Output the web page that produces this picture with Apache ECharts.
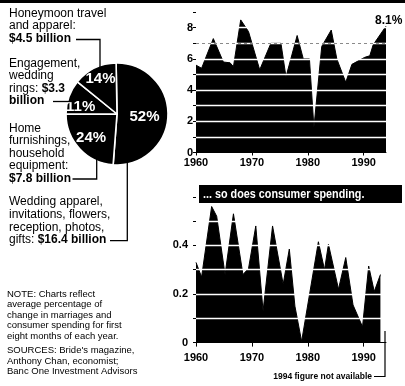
<!DOCTYPE html>
<html>
<head>
<meta charset="utf-8">
<script src="https://cdn.jsdelivr.net/npm/echarts@6/dist/echarts.min.js"></script>
<style>
html,body{margin:0;padding:0;background:#fff;}
#c{width:405px;height:386px;}
</style>
</head>
<body>
<div id="c"></div>
<script>
// ---- Pie: wedding spending shares ----
const pieNames = ['Wedding apparel, invitations, flowers, reception, photos, gifts', 'Home furnishings, household equipment', 'Engagement, wedding rings', 'Honeymoon travel and apparel'];
const piePercent = [52, 24, 11, 14];
const pieBillions = [16.4, 7.8, 3.3, 4.5];

// ---- Top chart: marriages (% change), vertices ----
const marriageYears = [1960, 1961, 1963.1, 1964.9, 1966.1, 1966.7, 1968, 1969.4, 1971.4, 1973.4, 1975.2, 1976.1, 1978.1, 1979.2, 1980.3, 1981.1, 1982.5, 1984.2, 1985.2, 1986.8, 1987.9, 1990.2, 1991.1, 1991.7, 1994];
const marriageChange = [5.6, 5.4, 7.3, 5.8, 5.75, 5.5, 8.5, 7.75, 5.3, 7.0, 7.0, 4.85, 7.5, 6.0, 6.0, 1.6, 6.8, 7.85, 6.0, 4.5, 5.65, 6.1, 6.2, 6.9, 8.1];

// ---- Bottom chart: consumer spending (% change) ----
const spendingYears = [1960, 1961, 1962.8, 1963.7, 1965.2, 1966.7, 1968.4, 1969.4, 1970.7, 1972.0, 1973.7, 1975.6, 1976.7, 1977.7, 1978.9, 1981.9, 1983.0, 1983.7, 1985.5, 1986.8, 1988.1, 1989.8, 1990.9, 1991.9, 1993];
const spendingChange = [0.33, 0.27, 0.56, 0.52, 0.28, 0.53, 0.28, 0.305, 0.48, 0.13, 0.48, 0.24, 0.385, 0.15, 0.005, 0.415, 0.30, 0.405, 0.22, 0.35, 0.155, 0.065, 0.315, 0.21, 0.28];

// ---- Tick labels ----
const decadeTicks = [1960, 1970, 1980, 1990];
const marriageTickLabels = [0, 2, 4, 6, 8];
const spendingTickLabels = [0, 0.2, 0.4];

const FONT = '"Liberation Sans", Arial, Helvetica, sans-serif';

const chart = echarts.init(document.getElementById('c'), null, {renderer: 'canvas'});

const axisFont = {fontFamily: FONT, fontWeight: 'bold', fontSize: 11, color: '#000'};

const pieLabelShift = [[-1, 2], [-5, 4.5], [-9.5, 2], [-4, -9.5]];

function textEl(x, y, text, size, lh, extra) {
  return Object.assign({
    type: 'text', x: x, y: y, z: 10,
    style: {
      text: text, fill: '#000', fontFamily: FONT, fontSize: size, lineHeight: lh,
      align: 'left', textAlign: 'left', verticalAlign: 'top', textVerticalAlign: 'top',
      rich: {
        b: {fontFamily: FONT, fontSize: size, fontWeight: 'bold', lineHeight: lh, fill: '#000', color: '#000'}
      }
    }
  }, extra || {});
}

const option = {
  animation: false,
  backgroundColor: '#fff',
  grid: [
    {left: 196, right: 19, top: 12.1, height: 140.4},
    {left: 196, right: 19, top: 196.8, height: 145.8}
  ],
  xAxis: [
    {
      gridIndex: 0, type: 'value', min: 1960, max: 1994, interval: 10, z: 6,
      axisLine: {show: true, lineStyle: {color: '#000', width: 1}},
      axisTick: {show: true, length: 3, customValues: decadeTicks, lineStyle: {color: '#000'}},
      axisLabel: Object.assign({customValues: decadeTicks, margin: 5, formatter: v => String(v)}, axisFont),
      splitLine: {show: false}
    },
    {
      gridIndex: 1, type: 'value', min: 1960, max: 1994, interval: 10, z: 6,
      axisLine: {show: true, lineStyle: {color: '#000', width: 1}},
      axisTick: {show: true, length: 4, customValues: decadeTicks, lineStyle: {color: '#000'}},
      axisLabel: Object.assign({customValues: decadeTicks, margin: 10, formatter: v => String(v)}, axisFont),
      splitLine: {show: false}
    }
  ],
  yAxis: [
    {
      gridIndex: 0, type: 'value', min: 0, max: 9, interval: 1, z: 5,
      axisLine: {show: false},
      axisTick: {show: true, length: 3, lineStyle: {color: '#000'}},
      axisLabel: Object.assign({customValues: marriageTickLabels, margin: 3, formatter: v => String(v)}, axisFont),
      splitLine: {show: true, showMinLine: false, showMaxLine: false, lineStyle: {color: '#fff', width: 1.3}}
    },
    {
      gridIndex: 1, type: 'value', min: 0, max: 0.6, interval: 0.1, z: 5,
      axisLine: {show: false},
      axisTick: {show: true, length: 3, lineStyle: {color: '#000'}},
      axisLabel: Object.assign({customValues: spendingTickLabels, margin: 8,
        formatter: v => (v === 0 ? '0' : String(+(+v).toFixed(1)))}, axisFont),
      splitLine: {show: true, showMinLine: false, showMaxLine: false, lineStyle: {color: '#fff', width: 1.3}}
    }
  ],
  series: [
    {
      type: 'pie', center: [117, 114], radius: 51, startAngle: 91, clockwise: true,
      silent: true, z: 3,
      data: piePercent.map((v, i) => ({value: v, name: pieNames[i], billions: pieBillions[i]})),
      itemStyle: {color: '#000', borderColor: '#fff', borderWidth: 1.6},
      label: {show: true, position: 'inside', formatter: '{c}%', color: '#fff',
        fontFamily: FONT, fontWeight: 'bold', fontSize: 15},
      labelLine: {show: false},
      labelLayout: p => ({dx: pieLabelShift[p.dataIndex][0], dy: pieLabelShift[p.dataIndex][1]}),
      emphasis: {disabled: true}
    },
    {
      type: 'line', xAxisIndex: 0, yAxisIndex: 0, z: 2,
      data: marriageYears.map((x, i) => [x, marriageChange[i]]),
      symbol: 'none', silent: true,
      lineStyle: {color: '#000', width: 1},
      areaStyle: {color: '#000', opacity: 1},
      endLabel: {show: true, formatter: p => p.value[1] + '%', offset: [-19, -5],
        fontFamily: FONT, fontWeight: 'bold', fontSize: 12, color: '#000'},
      markLine: {silent: true, symbol: 'none', label: {show: false}, animation: false,
        lineStyle: {color: '#8a8a8a', type: [3, 3], width: 1},
        data: [{yAxis: 7}]}
    },
    {
      type: 'line', xAxisIndex: 1, yAxisIndex: 1, z: 2,
      data: spendingYears.map((x, i) => [x, spendingChange[i]]),
      symbol: 'none', silent: true,
      lineStyle: {color: '#000', width: 1},
      areaStyle: {color: '#000', opacity: 1}
    }
  ],
  graphic: [
    {type: 'rect', shape: {x: 0, y: 0, width: 405, height: 3}, style: {fill: '#000'}, z: 10},
    // header bar of the second chart
    {type: 'rect', shape: {x: 199, y: 185, width: 203, height: 18}, style: {fill: '#000'}, z: 10},
    {type: 'text', x: 203, y: 194.5, scaleX: 0.8, z: 11, style: {text: '... so does consumer spending.', fill: '#fff',
      fontFamily: FONT, fontWeight: 'bold', fontSize: 13.5,
      align: 'left', textAlign: 'left', verticalAlign: 'middle', textVerticalAlign: 'middle'}},
    // pie annotations
    textEl(9, 6.9, 'Honeymoon travel\nand apparel:\n{b|$4.5 billion}', 12, 12.8),
    textEl(9, 56.9, 'Engagement,\nwedding\nrings: {b|$3.3}\n{b|billion}', 12, 12.6),
    textEl(9, 121.9, 'Home\nfurnishings,\nhousehold\nequipment:\n{b|$7.8 billion}', 12, 12.6),
    textEl(9, 195.3, 'Wedding apparel,\ninvitations, flowers,\nreception, photos,\ngifts: {b|$16.4 billion}', 12, 12.8),
    {type: 'polyline', z: 9, shape: {points: [[76, 39.5], [100, 39.5], [100, 68]]}, style: {stroke: '#000', lineWidth: 1.3, fill: null}},
    {type: 'polyline', z: 9, shape: {points: [[53, 101.5], [72, 101.5]]}, style: {stroke: '#000', lineWidth: 1.3, fill: null}},
    {type: 'polyline', z: 9, shape: {points: [[72.5, 179], [96.7, 179], [96.7, 158]]}, style: {stroke: '#000', lineWidth: 1.3, fill: null}},
    {type: 'polyline', z: 9, shape: {points: [[110, 240.7], [127.3, 240.7], [127.3, 162]]}, style: {stroke: '#000', lineWidth: 1.3, fill: null}},
    // notes
    textEl(7, 289.1, 'NOTE: Charts reflect\naverage percentage of\nchange in marriages and\nconsumer spending for first\neight months of each year.', 9.5, 10.45),
    textEl(7, 344.7, 'SOURCES: Bride\'s magazine,\nAnthony Chan, economist;\nBanc One Investment Advisors', 9.5, 10.8),
    // 1994 footnote
    {type: 'text', x: 372, y: 376.5, z: 10, style: {text: '1994 figure not available', fill: '#000',
      fontFamily: FONT, fontWeight: 'bold', fontSize: 8.5,
      align: 'right', textAlign: 'right', verticalAlign: 'middle', textVerticalAlign: 'middle'}},
    {type: 'polyline', z: 9, shape: {points: [[374, 376.5], [385, 376.5], [385, 331]]}, style: {stroke: '#000', lineWidth: 1.2, fill: null}}
  ]
};
chart.setOption(option);
</script>
</body>
</html>
